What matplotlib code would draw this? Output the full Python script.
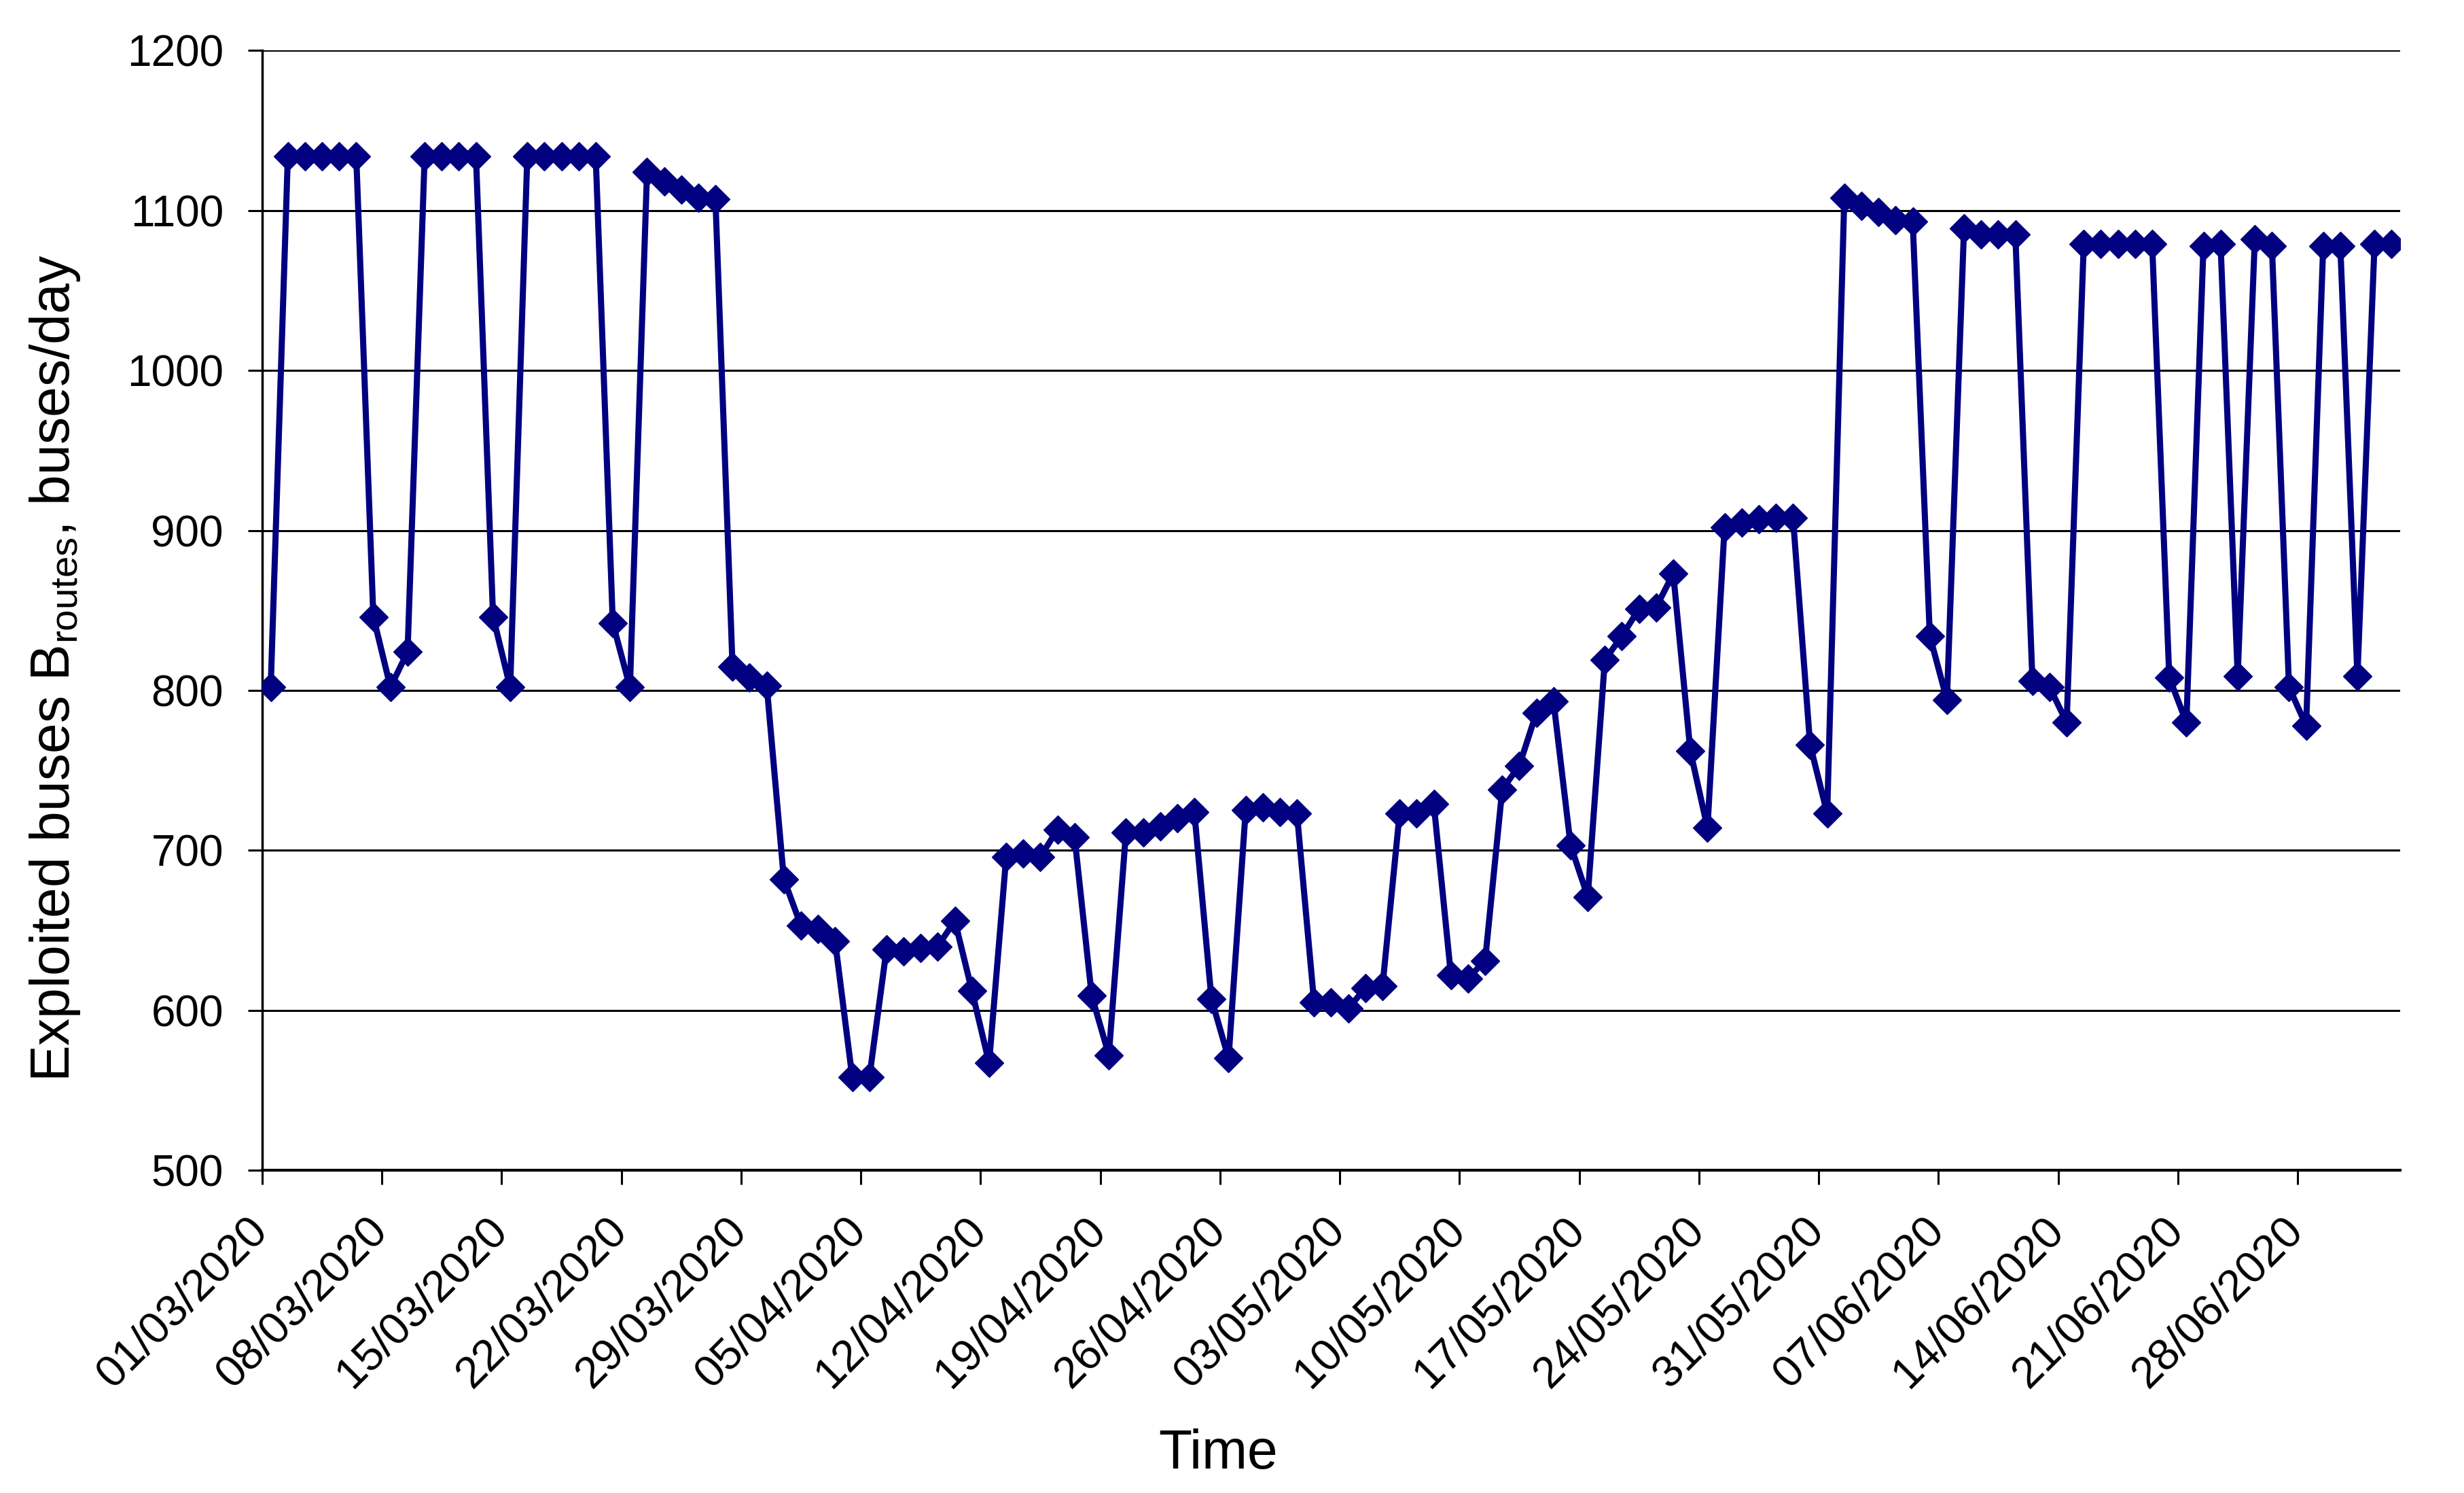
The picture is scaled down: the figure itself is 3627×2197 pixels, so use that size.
import matplotlib
matplotlib.use("Agg")
import matplotlib.pyplot as plt
import matplotlib.dates as mdates
import matplotlib.transforms as mtransforms
import numpy as np
import pandas as pd

plt.rcParams['font.family'] = ['Liberation Sans', 'DejaVu Sans']
plt.rcParams['mathtext.fontset'] = 'custom'
plt.rcParams['mathtext.rm'] = 'Liberation Sans'
plt.rcParams['mathtext.it'] = 'Liberation Sans:italic'

start_date = "2020-03-01"
buses = [
    802, 1134, 1134, 1134, 1134, 1134, 846, 802, 824, 1134,
    1134, 1134, 1134, 846, 802, 1134, 1134, 1134, 1134, 1134,
    842, 802, 1124, 1118, 1113, 1108, 1107, 815, 808, 803,
    682, 653, 651, 643, 558, 558, 638, 637, 639, 640,
    656, 612, 567, 696, 698, 696, 713, 708, 609, 572,
    711, 711, 715, 720, 724, 607, 570, 725, 727, 724,
    723, 605, 605, 601, 614, 615, 723, 723, 729, 622,
    620, 631, 738, 753, 786, 793, 703, 671, 819, 834,
    851, 852, 873, 762, 714, 902, 905, 907, 908, 908,
    766, 723, 1108, 1103, 1099, 1094, 1093, 834, 794, 1089,
    1085, 1085, 1085, 806, 802, 780, 1079, 1079, 1079, 1079,
    1079, 808, 780, 1078, 1079, 809, 1082, 1078, 802, 778,
    1078, 1078, 809, 1079, 1079,
]
y_ticks = [500, 600, 700, 800, 900, 1000, 1100, 1200]
x_label = "Time"
y_label = r"Exploited buses B$_{\mathrm{routes}}$, buses/day"

dates = pd.date_range(start_date, periods=len(buses), freq="D")
x = dates + pd.Timedelta(hours=12)
tick_dates = pd.date_range(start_date, periods=18, freq="7D")

fig = plt.figure(figsize=(36.27, 21.97), dpi=100)
ax = fig.add_axes([0.1064, 0.2162, 0.9741 - 0.1064, 0.9661 - 0.2162])

navy = "#000080"
ax.plot(x, buses, color=navy, linewidth=6.5, marker="D", markersize=21,
        markerfacecolor=navy, markeredgecolor=navy, markeredgewidth=1, zorder=3)

ax.set_xlim(dates[0], dates[-1] + pd.Timedelta(days=1))
ax.set_ylim(500, 1200)
ax.set_yticks(y_ticks)
ax.set_xticks(tick_dates)
ax.xaxis.set_major_formatter(mdates.DateFormatter("%d/%m/%Y"))

ax.yaxis.grid(True, color="black", linewidth=2.2)
ax.set_axisbelow(True)
for s in ["top", "right"]:
    ax.spines[s].set_visible(False)
ax.spines["left"].set_linewidth(2.5)
ax.spines["bottom"].set_linewidth(3)

ax.tick_params(axis="y", length=15, width=2.2, labelsize=46, pad=26)
ax.tick_params(axis="x", length=15, width=2.2, labelsize=47, pad=27)
offset = mtransforms.ScaledTranslation(0.2, 0, fig.dpi_scale_trans)
for lab in ax.get_xticklabels():
    lab.set_rotation(45)
    lab.set_ha("right")
    lab.set_transform(lab.get_transform() + offset)

fig.text(1793 / 3627, 1 - 2140 / 2197, x_label, fontsize=58, ha="center", va="center")
fig.text(81 / 3627, 1 - 983 / 2197, y_label, fontsize=58, ha="center", va="center", rotation=90)

fig.savefig("out.png", dpi=100)
